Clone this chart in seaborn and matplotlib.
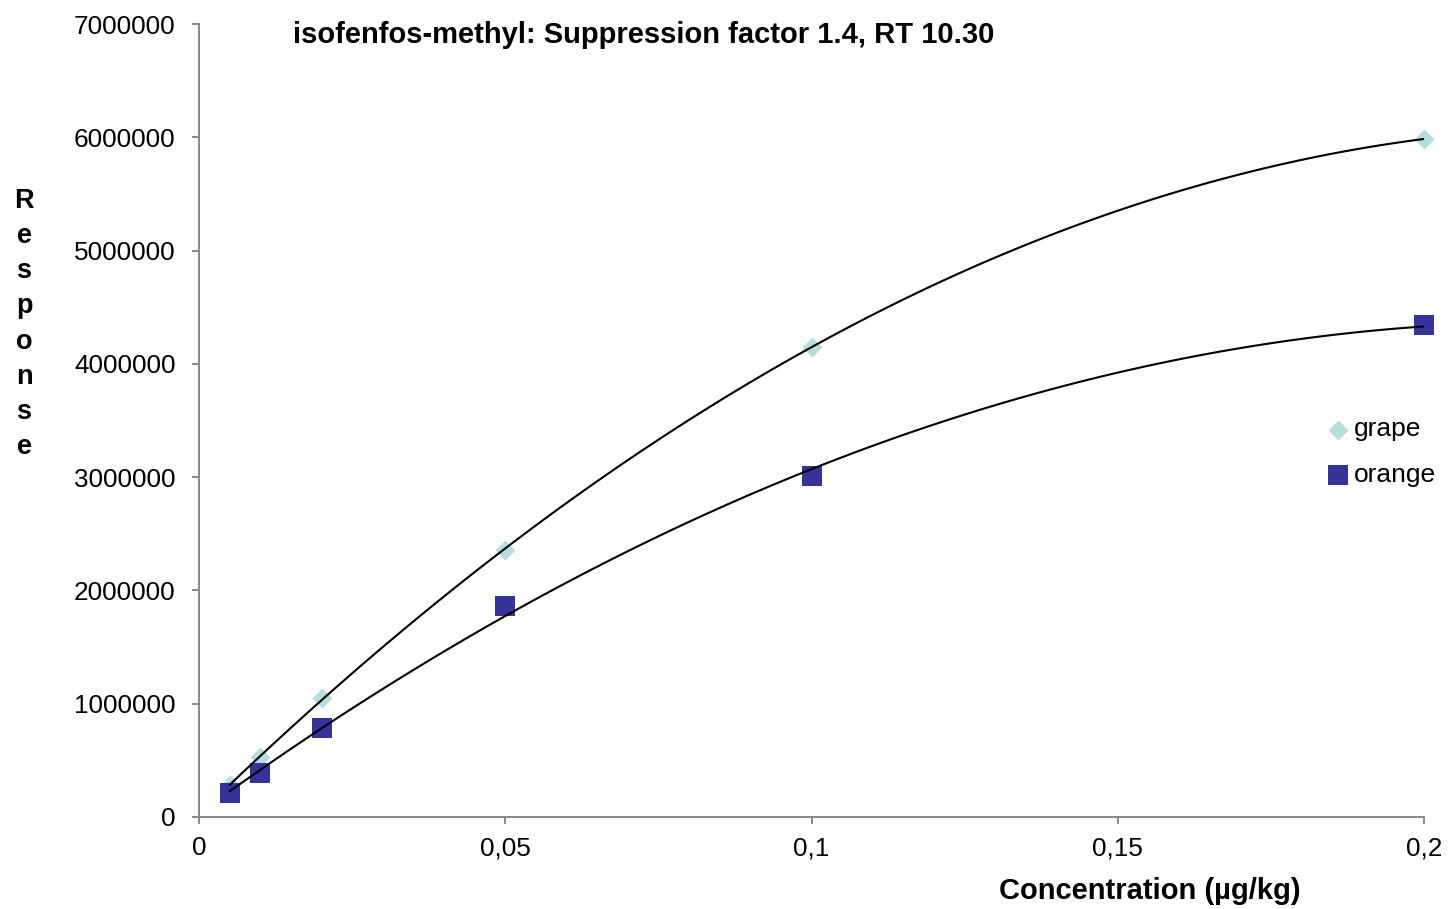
import numpy as np
import pandas as pd
import matplotlib
matplotlib.use("Agg")
import matplotlib.pyplot as plt
from matplotlib.ticker import FuncFormatter, MultipleLocator
import seaborn as sns

# Calibration data
concentration = [0.005, 0.01, 0.02, 0.05, 0.1, 0.2]
grape = [280000, 530000, 1050000, 2360000, 4150000, 5985000]
orange = [210000, 390000, 790000, 1860000, 3010000, 4340000]

series_names = ["grape", "orange"]
title = "isofenfos-methyl: Suppression factor 1.4, RT 10.30"
x_label = "Concentration (µg/kg)"
y_label = "Response"

sns.set_theme(style="white")
plt.rcParams["font.family"] = ["Liberation Sans", "DejaVu Sans"]
plt.rcParams["text.color"] = "black"
plt.rcParams["axes.labelcolor"] = "black"
plt.rcParams["axes.titlecolor"] = "black"

df = pd.DataFrame({"conc": concentration, "grape": grape, "orange": orange})

W, H = 1448, 909
fig = plt.figure(figsize=(W / 100, H / 100), dpi=100)
ax = fig.add_axes([199 / W, (H - 817) / H, (1424 - 199) / W, (817 - 24) / H])

sns.scatterplot(data=df, x="conc", y="grape", marker="D", s=104, color="#B4DEE0",
                linewidth=0, label=series_names[0], ax=ax, clip_on=False, zorder=3)
sns.scatterplot(data=df, x="conc", y="orange", marker="s", s=210, color="#333399",
                linewidth=0, label=series_names[1], ax=ax, clip_on=False, zorder=3)

# Second-order polynomial trend lines
for col in series_names:
    sns.regplot(data=df, x="conc", y=col, order=2, ci=None, scatter=False, truncate=True,
                color="black", line_kws={"lw": 1.5, "zorder": 5}, ax=ax)

ax.set_xlim(0, 0.2)
ax.set_ylim(0, 7000000)
ax.xaxis.set_major_locator(MultipleLocator(0.05))
ax.yaxis.set_major_locator(MultipleLocator(1000000))
ax.xaxis.set_major_formatter(FuncFormatter(lambda v, p: ("%g" % round(v, 4)).replace(".", ",")))
ax.yaxis.set_major_formatter(FuncFormatter(lambda v, p: "%d" % round(v)))

for side in ["top", "right"]:
    ax.spines[side].set_visible(False)
for side in ["left", "bottom"]:
    ax.spines[side].set_color("#888888")
    ax.spines[side].set_linewidth(1.4)

ax.tick_params(axis="both", which="major", direction="out", length=5, width=1.4,
               color="#888888", labelsize=18.8, labelcolor="black")
ax.tick_params(axis="y", pad=12, left=True)
ax.tick_params(axis="x", pad=9, bottom=True)

ax.set_title(title, fontsize=21, fontweight="bold", loc="left", color="black",
             x=(293 - 199) / (1424 - 199), y=(817 - 43) / 793, va="center")

ax.set_xlabel(x_label, fontsize=21, fontweight="bold", va="center", ha="center")
ax.xaxis.set_label_coords((1150 - 199) / 1225, (817 - 891) / 793)

ax.set_ylabel("\n".join(y_label), fontsize=19.5, fontweight="bold", rotation=0,
              va="center", ha="center", linespacing=1.46)
ax.yaxis.set_label_coords((24 - 199) / 1225, (817 - 324) / 793)

leg = ax.legend(loc="center left", bbox_to_anchor=(1330 / W, 1 - 452 / H),
                bbox_transform=fig.transFigure, frameon=False, fontsize=19,
                handlelength=0.6, handletextpad=0.3, labelspacing=0.8,
                borderpad=0, borderaxespad=0)
for t in leg.get_texts():
    t.set_color("black")

fig.savefig("out.png", dpi=100)
